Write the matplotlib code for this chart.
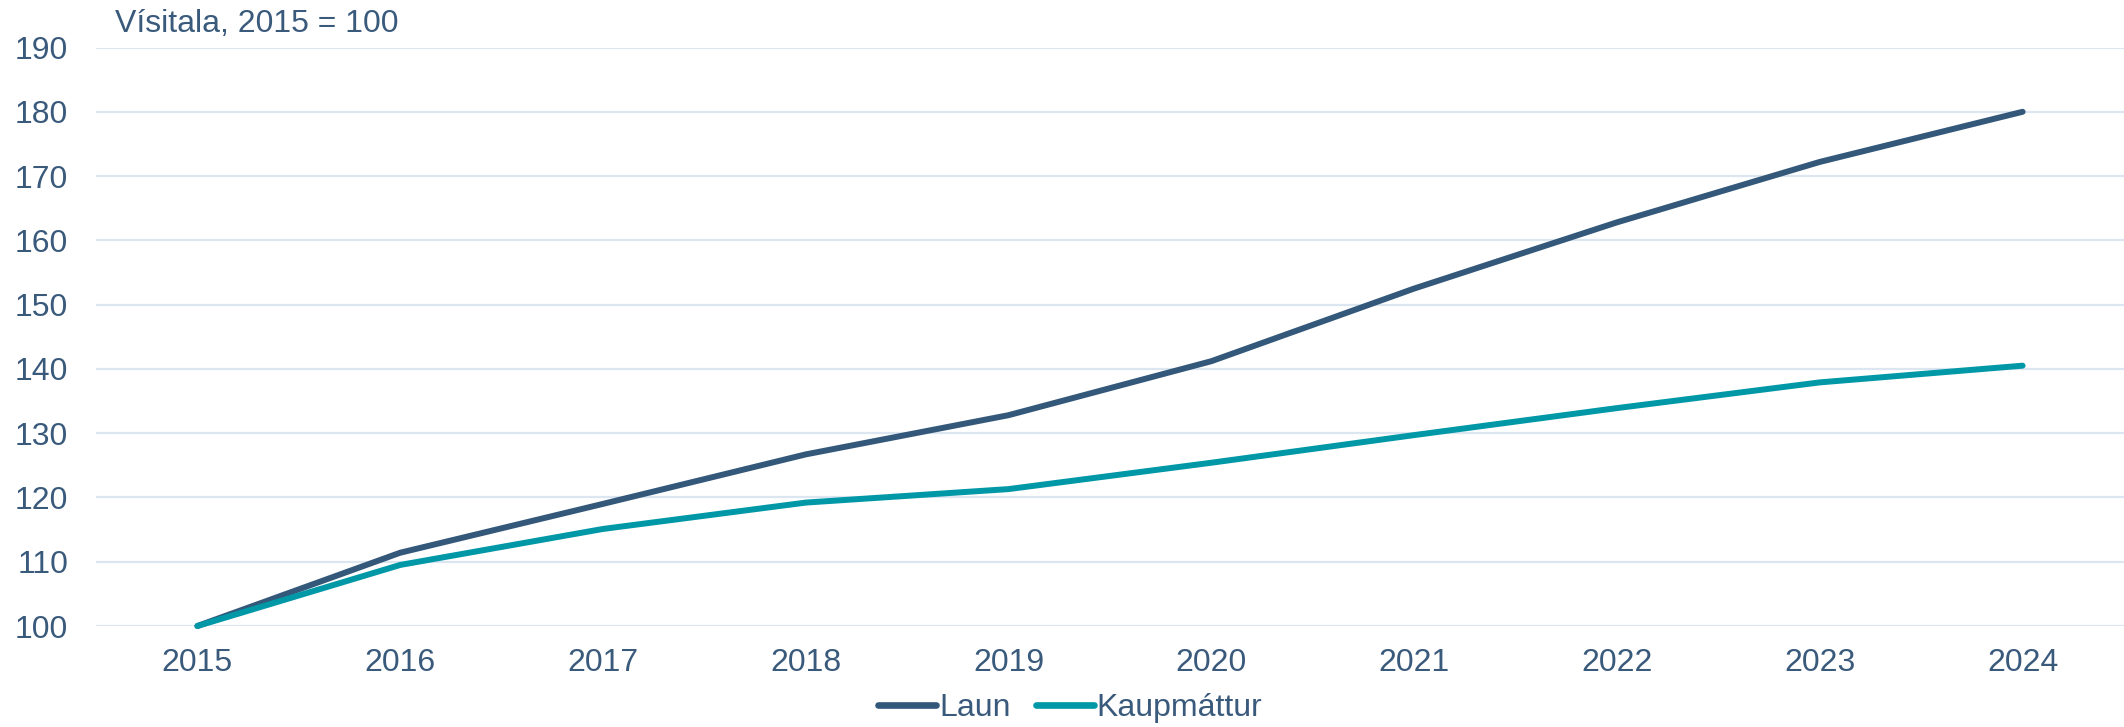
import matplotlib
matplotlib.use("Agg")
import matplotlib.pyplot as plt

years = ["2015", "2016", "2017", "2018", "2019", "2020", "2021", "2022", "2023", "2024"]
laun = [100.0, 111.4, 119.0, 126.7, 132.8, 141.2, 152.5, 162.8, 172.2, 180.0]
kaupmattur = [100.0, 109.5, 115.1, 119.2, 121.3, 125.4, 129.7, 133.9, 137.9, 140.5]
y_ticks = [100, 110, 120, 130, 140, 150, 160, 170, 180, 190]

text_color = "#3A5A7C"
grid_color = "#DCE6F1"

plt.rcParams["font.family"] = ["Liberation Sans", "DejaVu Sans"]

fig = plt.figure(figsize=(21.24, 7.27), dpi=100)
ax = fig.add_axes([96 / 2124, 1 - 626 / 727, 1 - 96 / 2124, (626 - 47.5) / 727])

x = range(len(years))
ax.plot(x, laun, color="#34587A", linewidth=4.3, label="Laun",
        solid_capstyle="round", clip_on=False, zorder=3)
ax.plot(x, kaupmattur, color="#0098A7", linewidth=4.3, label="Kaupmáttur",
        solid_capstyle="round", clip_on=False, zorder=3)

ax.set_xlim(-0.5, len(years) - 0.5)
ax.set_ylim(100, 190)
ax.set_xticks(list(x))
ax.set_xticklabels(years)
ax.set_yticks(y_ticks)

# gridlines only, no frame
ax.grid(axis="y", color=grid_color, linewidth=1.6)
ax.set_axisbelow(True)
for side in ["top", "right", "left", "bottom"]:
    ax.spines[side].set_visible(False)
ax.tick_params(axis="both", length=0, labelsize=23, labelcolor=text_color)
ax.tick_params(axis="y", pad=20)
ax.tick_params(axis="x", pad=16)

fig.text(115 / 2124, 1 - 32 / 727, "Vísitala, 2015 = 100", fontsize=23,
         color=text_color, va="baseline", ha="left")

leg = fig.legend(loc="center", bbox_to_anchor=(0.504, 0.026), ncol=2,
                 frameon=False, fontsize=23, handlelength=1.8,
                 handletextpad=0.1, columnspacing=0.8, borderaxespad=0)
for t in leg.get_texts():
    t.set_color(text_color)
for h in leg.get_lines():
    h.set_linewidth(4.8)

fig.savefig("out.png", dpi=100)
